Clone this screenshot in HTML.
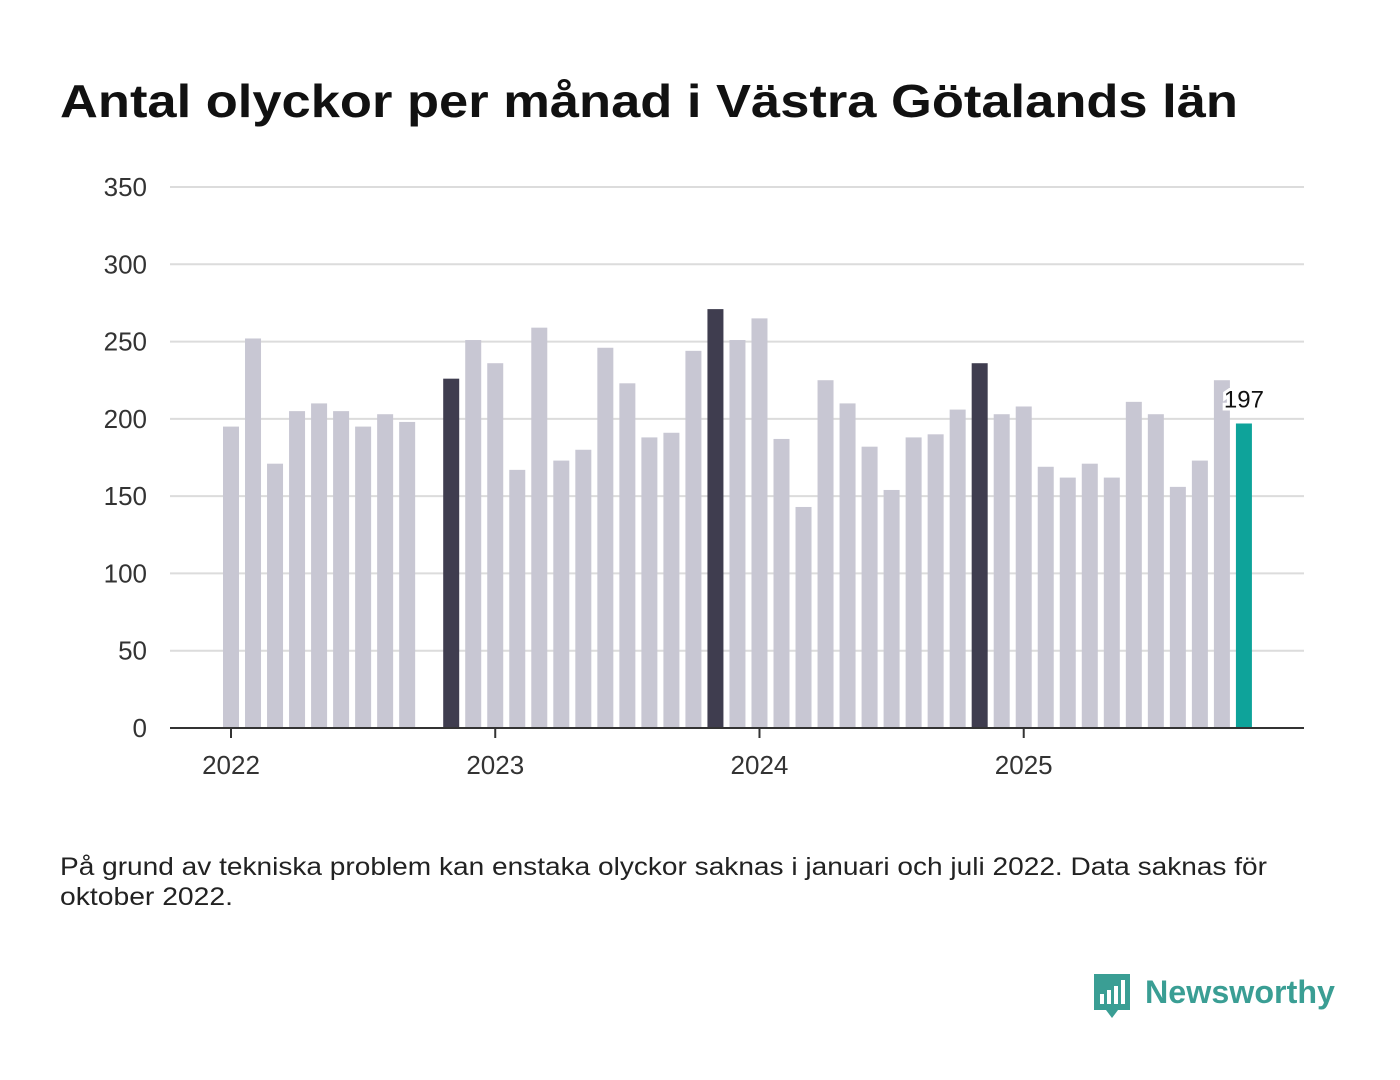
<!DOCTYPE html>
<html><head><meta charset="utf-8"><style>
body{margin:0;background:#fff;}
svg{display:block;font-family:"Liberation Sans",sans-serif;}
</style></head><body>
<svg width="1400" height="1080" viewBox="0 0 1400 1080">
<text x="60" y="117" font-size="46" font-weight="bold" fill="#111" textLength="1178" lengthAdjust="spacingAndGlyphs">Antal olyckor per månad i Västra Götalands län</text>
<g id="grid"></g>
<g id="bars"></g>
<g id="xaxis"></g>
<text x="60" y="875" font-size="25" fill="#222" textLength="1207" lengthAdjust="spacingAndGlyphs">På grund av tekniska problem kan enstaka olyckor saknas i januari och juli 2022. Data saknas för</text>
<text x="60" y="905" font-size="25" fill="#222" textLength="173" lengthAdjust="spacingAndGlyphs">oktober 2022.</text>
<g>
<path d="M1094 974 h36 v36 h-12 l-6 8 l-6 -8 h-12 z" fill="#3a9e94"/>
<rect x="1100" y="994" width="4" height="10" fill="#fff"/>
<rect x="1107" y="990" width="4" height="14" fill="#fff"/>
<rect x="1114" y="986" width="4" height="18" fill="#fff"/>
<rect x="1121" y="980" width="4" height="24" fill="#fff"/>
<text x="1145" y="1003" font-size="32" font-weight="bold" fill="#3a9e94" textLength="190" lengthAdjust="spacingAndGlyphs">Newsworthy</text>
</g>
</svg>
<script>
const months = [];
for (let y = 2022; y <= 2025; y++) for (let m = 1; m <= 12; m++) if (!(y === 2025 && m > 11)) months.push(y + '-' + m);
const values = [195,252,171,205,210,205,195,203,198,null,226,251,
236,167,259,173,180,246,223,188,191,244,271,251,
265,187,143,225,210,182,154,188,190,206,236,203,
208,169,162,171,162,211,203,156,173,225,197];
const yTicks = [0,50,100,150,200,250,300,350];
const yearLabels = ['2022','2023','2024','2025'];
const highlightMonth = 11;

const NS = 'http://www.w3.org/2000/svg';
const x0 = 231, step = 22.02, y0 = 728, yTop = 187, yMax = 350;
const xPos = i => x0 + i * step;
const yPos = v => y0 - (v / yMax) * (y0 - yTop);
function mk(tag, attrs, parent) { const e = document.createElementNS(NS, tag); for (const k in attrs) e.setAttribute(k, attrs[k]); parent.appendChild(e); return e; }

const grid = document.getElementById('grid');
yTicks.forEach(t => {
  if (t > 0) {
    const l = mk('line', {x1:170, x2:1304, y1:yPos(t), y2:yPos(t), stroke:'#dcdcdc', 'stroke-width':2}, grid);
    
    
  }
  const tx = mk('text', {x:147, y:yPos(t) + 9, 'text-anchor':'end', 'font-size':26, fill:'#333'}, grid);
  tx.textContent = t;
  
  
});

const bars = document.getElementById('bars');
const last = values.length - 1;
values.forEach((v, i) => {
  if (v === null) return;
  const m = i % 12 + 1;
  let fill = '#c8c7d3';
  if (i === last) fill = '#0ea39a';
  else if (m === highlightMonth) fill = '#3f3d4f';
  const r = mk('rect', {x:xPos(i) - 8, y:yPos(v), width:16, height:y0 - yPos(v), fill}, bars);
  
  
});
const lv = mk('text', {x:xPos(last), y:yPos(values[last]) - 16, 'text-anchor':'middle', 'font-size':24, fill:'#111', stroke:'#fff', 'stroke-width':6, 'paint-order':'stroke'}, bars);
lv.textContent = values[last];



const xa = document.getElementById('xaxis');
const ax = mk('line', {x1:170, x2:1304, y1:y0, y2:y0, stroke:'#333', 'stroke-width':2}, xa);


yearLabels.forEach((yl, k) => {
  const x = xPos(k * 12);
  const tk = mk('line', {x1:x, x2:x, y1:y0, y2:y0 + 10, stroke:'#333', 'stroke-width':2}, xa);
  
  
  const t = mk('text', {x:x, y:774, 'text-anchor':'middle', 'font-size':26, fill:'#333'}, xa);
  t.textContent = yl;
  
  
});
</script>
</body></html>
